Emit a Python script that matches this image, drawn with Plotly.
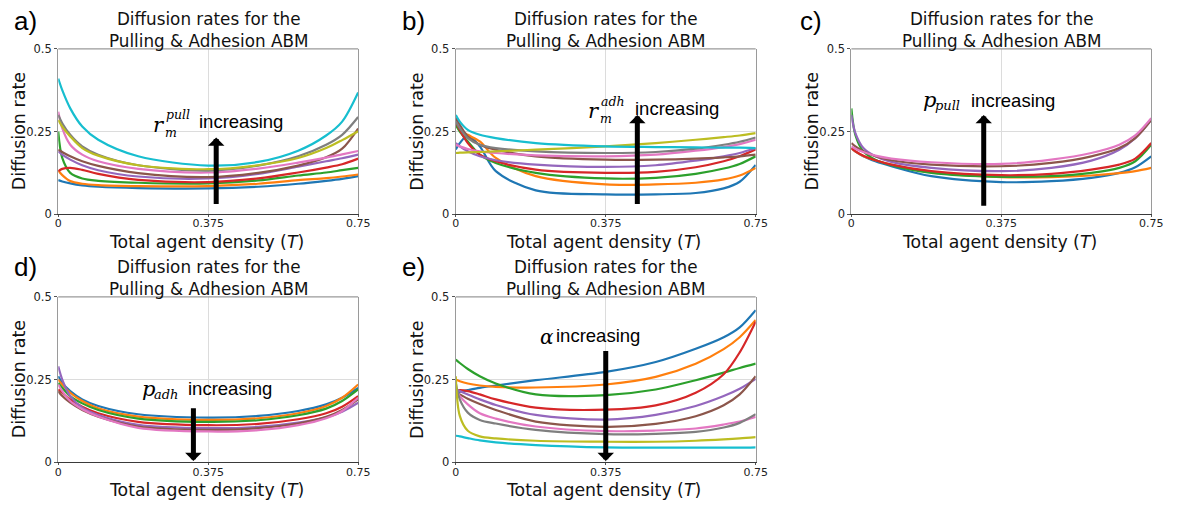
import plotly.graph_objects as go

W, H = 1182, 513

# ---------------- data ----------------
XS = [0, 0.01, 0.03, 0.06, 0.1, 0.2, 0.375, 0.5, 0.6, 0.67, 0.71, 0.75]

COLORS = ["#1f77b4", "#ff7f0e", "#2ca02c", "#d62728", "#9467bd",
          "#8c564b", "#e377c2", "#7f7f7f", "#bcbd22", "#17becf"]

panel_a = [
    [0.103, 0.099, 0.093, 0.087, 0.083, 0.079, 0.078, 0.083, 0.092, 0.101, 0.107, 0.115],
    [0.132, 0.118, 0.100, 0.092, 0.088, 0.085, 0.085, 0.092, 0.103, 0.109, 0.114, 0.120],
    [0.250, 0.170, 0.125, 0.108, 0.101, 0.095, 0.093, 0.102, 0.117, 0.126, 0.133, 0.140],
    [0.130, 0.137, 0.140, 0.134, 0.122, 0.104, 0.097, 0.108, 0.126, 0.141, 0.151, 0.168],
    [0.190, 0.180, 0.165, 0.148, 0.133, 0.114, 0.108, 0.122, 0.144, 0.160, 0.169, 0.180],
    [0.195, 0.188, 0.175, 0.160, 0.146, 0.124, 0.112, 0.125, 0.147, 0.172, 0.198, 0.259],
    [0.310, 0.260, 0.210, 0.180, 0.160, 0.137, 0.126, 0.138, 0.156, 0.171, 0.181, 0.191],
    [0.300, 0.275, 0.240, 0.205, 0.180, 0.148, 0.132, 0.147, 0.175, 0.210, 0.240, 0.294],
    [0.285, 0.265, 0.235, 0.200, 0.177, 0.148, 0.136, 0.148, 0.170, 0.200, 0.224, 0.251],
    [0.410, 0.375, 0.320, 0.265, 0.225, 0.175, 0.147, 0.158, 0.192, 0.238, 0.280, 0.368],
]

panel_b = [
    [0.196, 0.215, 0.238, 0.205, 0.130, 0.072, 0.060, 0.060, 0.064, 0.078, 0.098, 0.149],
    [0.270, 0.255, 0.240, 0.220, 0.170, 0.115, 0.090, 0.090, 0.095, 0.105, 0.117, 0.140],
    [0.270, 0.250, 0.220, 0.180, 0.155, 0.125, 0.108, 0.110, 0.122, 0.138, 0.152, 0.175],
    [0.280, 0.255, 0.215, 0.180, 0.160, 0.135, 0.125, 0.128, 0.142, 0.160, 0.175, 0.196],
    [0.215, 0.205, 0.190, 0.175, 0.163, 0.150, 0.143, 0.148, 0.162, 0.175, 0.185, 0.200],
    [0.290, 0.270, 0.235, 0.210, 0.195, 0.175, 0.165, 0.165, 0.168, 0.172, 0.175, 0.180],
    [0.210, 0.205, 0.197, 0.190, 0.185, 0.178, 0.175, 0.180, 0.192, 0.203, 0.212, 0.225],
    [0.280, 0.260, 0.230, 0.210, 0.200, 0.190, 0.185, 0.188, 0.198, 0.210, 0.219, 0.232],
    [0.185, 0.186, 0.187, 0.188, 0.190, 0.195, 0.205, 0.215, 0.225, 0.233, 0.238, 0.245],
    [0.300, 0.280, 0.255, 0.240, 0.230, 0.215, 0.205, 0.203, 0.202, 0.201, 0.201, 0.200],
]

panel_c = [
    [0.200, 0.190, 0.175, 0.160, 0.145, 0.115, 0.097, 0.100, 0.110, 0.125, 0.142, 0.175],
    [0.200, 0.190, 0.176, 0.163, 0.150, 0.127, 0.112, 0.112, 0.117, 0.124, 0.130, 0.140],
    [0.320, 0.240, 0.190, 0.165, 0.148, 0.125, 0.113, 0.115, 0.125, 0.140, 0.160, 0.210],
    [0.200, 0.190, 0.177, 0.163, 0.150, 0.130, 0.118, 0.122, 0.135, 0.150, 0.168, 0.215],
    [0.300, 0.245, 0.200, 0.175, 0.158, 0.140, 0.130, 0.140, 0.162, 0.195, 0.230, 0.285],
    [0.215, 0.205, 0.190, 0.175, 0.163, 0.150, 0.145, 0.155, 0.175, 0.200, 0.230, 0.285],
    [0.205, 0.198, 0.188, 0.177, 0.168, 0.157, 0.152, 0.165, 0.185, 0.210, 0.238, 0.290],
]

panel_d = [
    [0.260, 0.240, 0.215, 0.190, 0.170, 0.145, 0.135, 0.140, 0.155, 0.175, 0.195, 0.225],
    [0.250, 0.235, 0.210, 0.185, 0.163, 0.138, 0.128, 0.133, 0.148, 0.170, 0.195, 0.235],
    [0.240, 0.225, 0.200, 0.178, 0.158, 0.132, 0.122, 0.127, 0.142, 0.162, 0.185, 0.220],
    [0.220, 0.210, 0.190, 0.168, 0.148, 0.122, 0.112, 0.116, 0.130, 0.148, 0.168, 0.200],
    [0.290, 0.250, 0.200, 0.165, 0.143, 0.113, 0.103, 0.107, 0.120, 0.136, 0.153, 0.180],
    [0.215, 0.200, 0.180, 0.158, 0.138, 0.108, 0.098, 0.103, 0.117, 0.137, 0.158, 0.190],
    [0.235, 0.215, 0.185, 0.160, 0.138, 0.104, 0.093, 0.097, 0.112, 0.133, 0.155, 0.195],
]

panel_e = [
    [0.210, 0.213, 0.218, 0.225, 0.232, 0.248, 0.273, 0.303, 0.343, 0.378, 0.408, 0.460],
    [0.250, 0.245, 0.238, 0.232, 0.228, 0.226, 0.235, 0.258, 0.298, 0.342, 0.378, 0.430],
    [0.310, 0.300, 0.282, 0.260, 0.238, 0.205, 0.203, 0.220, 0.248, 0.271, 0.285, 0.298],
    [0.215, 0.218, 0.215, 0.205, 0.190, 0.165, 0.159, 0.172, 0.210, 0.266, 0.332, 0.425],
    [0.220, 0.215, 0.205, 0.190, 0.173, 0.143, 0.129, 0.143, 0.170, 0.200, 0.222, 0.252],
    [0.210, 0.205, 0.192, 0.176, 0.158, 0.123, 0.107, 0.116, 0.139, 0.172, 0.205, 0.260],
    [0.220, 0.200, 0.175, 0.148, 0.132, 0.108, 0.094, 0.096, 0.102, 0.114, 0.123, 0.137],
    [0.240, 0.190, 0.150, 0.128, 0.117, 0.098, 0.085, 0.086, 0.092, 0.105, 0.119, 0.145],
    [0.260, 0.140, 0.095, 0.078, 0.072, 0.065, 0.062, 0.062, 0.065, 0.069, 0.072, 0.076],
    [0.080, 0.078, 0.073, 0.066, 0.060, 0.052, 0.045, 0.044, 0.044, 0.044, 0.044, 0.045],
]

PANELS = [panel_a, panel_b, panel_c, panel_d, panel_e]
PANEL_LABELS = ["a)", "b)", "c)", "d)", "e)"]
TITLE = "Diffusion rates for the<br>Pulling & Adhesion ABM"
X_TITLE = "Total agent density (<i>T</i>)"
Y_TITLE = "Diffusion rate"
X_TICKS = [0, 0.375, 0.75]
X_TICKTEXT = ["0", "0.375", "0.75"]
Y_TICKS = [0, 0.25, 0.5]
Y_TICKTEXT = ["0", "0.25", "0.5"]

# ---------------- layout geometry (pixels) ----------------
BOXES = [(55, 359, 43, 213), (458, 762, 43, 213), (859, 1163, 43, 213),
         (55, 359, 298, 468), (458, 762, 298, 468)]
LABEL_POS = [(8, 14), (401, 14), (805, 14), (8, 267), (401, 267)]


def px(x):
    return x / W


def py(y):
    return 1 - y / H


fig = go.Figure()
layout = {}
annotations = []
shapes = []
SANS = "DejaVu Sans"
ARIAL = "Liberation Sans, Arial"
SERIF = "DejaVu Serif"

for i, (data, box) in enumerate(zip(PANELS, BOXES)):
    n = i + 1
    xa = "x" if n == 1 else f"x{n}"
    ya = "y" if n == 1 else f"y{n}"
    for j, ys in enumerate(data):
        fig.add_trace(go.Scatter(
            x=XS, y=ys, mode="lines", xaxis=xa, yaxis=ya,
            line=dict(color=COLORS[j], width=2.2, shape="spline", smoothing=0.9),
            showlegend=False, hoverinfo="skip"))
    l, r, t, b = box
    layout[f"xaxis{'' if n == 1 else n}"] = dict(
        domain=[px(l), px(r)], anchor=ya, range=[0, 0.75],
        tickvals=X_TICKS, ticktext=X_TICKTEXT,
        showgrid=True, gridcolor="#dcdcdc", gridwidth=1,
        showline=True, linecolor="#3a3a3a", linewidth=1.2, mirror=False,
        ticks="outside", ticklen=2, tickcolor="#555", tickwidth=1,
        ticklabelstandoff=-3,
        tickfont=dict(family=SANS, size=11, color="#222"),
        zeroline=False, fixedrange=True)
    layout[f"yaxis{'' if n == 1 else n}"] = dict(
        domain=[py(b), py(t)], anchor=xa, range=[0, 0.5],
        tickvals=Y_TICKS, ticktext=Y_TICKTEXT,
        showgrid=True, gridcolor="#dcdcdc", gridwidth=1,
        showline=True, linecolor="#9a9a9a", linewidth=1.2, mirror=True,
        ticks="outside", ticklen=3, tickcolor="#555", tickwidth=1,
        tickfont=dict(family=SANS, size=11.5, color="#222"),
        zeroline=False, fixedrange=True)
    shapes.append(dict(type="line", xref=f"{xa} domain", yref=f"{ya} domain",
                       x0=0, x1=1, y0=1, y1=1,
                       line=dict(color="#9a9a9a", width=1.2)))
    cx = (l + r) / 2
    annotations.append(dict(text=TITLE, x=px(cx), y=py(t - 19),
                            xref="paper", yref="paper", showarrow=False,
                            xanchor="center", yanchor="middle", align="center",
                            font=dict(family=SANS, size=16.8, color="#111")))
    annotations.append(dict(text=X_TITLE, x=px(cx - 2), y=py(b + 29),
                            xref="paper", yref="paper", showarrow=False,
                            xanchor="center", yanchor="middle",
                            font=dict(family=SANS, size=17.3, color="#111")))
    annotations.append(dict(text=Y_TITLE, x=px(l - 40), y=py((t + b) / 2),
                            xref="paper", yref="paper", showarrow=False,
                            xanchor="center", yanchor="middle", textangle=-90,
                            font=dict(family=SANS, size=17.5, color="#111")))
    lx, ly = LABEL_POS[i]
    annotations.append(dict(text=PANEL_LABELS[i], x=px(lx), y=py(ly),
                            xref="paper", yref="paper", showarrow=False,
                            xanchor="left", yanchor="middle",
                            font=dict(family=ARIAL, size=26, color="#000")))


def text_ann(text, x, y, size, family, anchor="left"):
    annotations.append(dict(text=text, x=px(x), y=py(y), xref="paper", yref="paper",
                            showarrow=False, xanchor=anchor, yanchor="middle",
                            font=dict(family=family, size=size, color="#000")))


# panel a: r_m^pull increasing
text_ann("<i>r</i>", 149, 121, 21, SERIF)
text_ann("<i>pull</i>", 162, 111, 12.5, SERIF)
text_ann("<i>m</i>", 161, 129, 12.5, SERIF)
text_ann("increasing", 196, 118, 18.5, ARIAL)
# panel b: r_m^adh increasing
text_ann("<i>r</i>", 590, 107, 21, SERIF)
text_ann("<i>adh</i>", 603, 97, 12.5, SERIF)
text_ann("<i>m</i>", 602, 115, 12.5, SERIF)
text_ann("increasing", 638, 104, 18.5, ARIAL)
# panel c: p_pull increasing
text_ann("<i>p</i>", 930, 96, 21, SERIF)
text_ann("<i>pull</i>", 942, 101, 13, SERIF)
text_ann("increasing", 978, 96, 18.5, ARIAL)
# panel d: p_adh increasing
text_ann("<i>p</i>", 138, 393, 21, SERIF)
text_ann("<i>adh</i>", 150, 398, 13, SERIF)
text_ann("increasing", 185, 392, 18.5, ARIAL)
# panel e: alpha increasing
text_ann("<i>α</i>", 541, 339, 20, SERIF)
text_ann("increasing", 558, 338, 18.5, ARIAL)

# arrows: (axis suffix, x, tail y, tip y)
ARROWS = [("", 0.395, 0.026, 0.232), ("2", 0.454, 0.026, 0.300),
          ("3", 0.331, 0.021, 0.300), ("4", 0.338, 0.168, 0.004),
          ("5", 0.375, 0.341, 0.004)]
for suf, ax_, y0, y1 in ARROWS:
    annotations.append(dict(x=ax_, y=y1, ax=ax_, ay=y0,
                            xref=f"x{suf}", yref=f"y{suf}",
                            axref=f"x{suf}", ayref=f"y{suf}",
                            showarrow=True, arrowhead=1, arrowsize=0.55,
                            arrowwidth=5, arrowcolor="#000", text=""))

fig.update_layout(
    width=W, height=H, margin=dict(l=0, r=0, t=0, b=0),
    paper_bgcolor="white", plot_bgcolor="white",
    annotations=annotations, shapes=shapes, showlegend=False,
    **layout)

fig.write_html("out.html", config={"displayModeBar": False})
